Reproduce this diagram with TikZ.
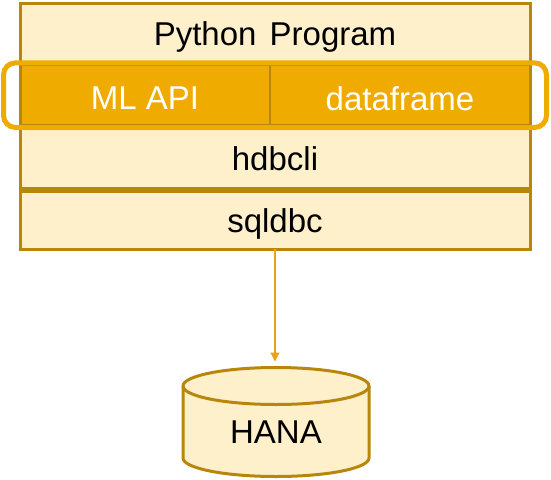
\documentclass[tikz,border=0pt]{standalone}
\usepackage{fontspec}
\setmainfont{Liberation Sans}
\usetikzlibrary{arrows.meta}
\definecolor{edge}{RGB}{184,134,11}
\definecolor{cream}{RGB}{255,240,204}
\definecolor{gold}{RGB}{240,171,0}
\definecolor{arrowc}{RGB}{232,163,23}
\tikzset{
  layer/.style={draw=edge, fill=cream, line width=3pt, inner sep=0pt, outer sep=0pt},
  goldrow/.style={draw=edge, fill=gold, line width=1.5pt, inner sep=0pt, outer sep=0pt},
  lbl/.style={anchor=base, inner sep=0pt, font=\fontsize{33}{36}\selectfont},
  wlbl/.style={lbl, text=white},
  hilite/.style={draw=gold, line width=5pt, rounded corners=12pt},
  link/.style={draw=arrowc, line width=1.2pt, -{Triangle[width=9pt,length=9pt]}}
}
\begin{document}
\begin{tikzpicture}[x=1pt,y=-1pt]
\useasboundingbox (0,0) rectangle (551,479);
% layers
\node[layer, minimum width=510pt, minimum height=61pt] (py) at (275,33.5) {};
\node[goldrow, minimum width=250pt, minimum height=59pt] (ml) at (145,95) {};
\node[goldrow, minimum width=260pt, minimum height=59pt] (df) at (400,95) {};
\node[layer, minimum width=510pt, minimum height=63pt] (hdb) at (275,156.5) {};
\node[layer, minimum width=510pt, minimum height=58pt] (sql) at (275,220) {};
\draw[edge, line width=3pt] (20,3) rectangle (530,249);
% highlight
\draw[hilite] (3.5,62.8) rectangle (546.5,127.5);
% texts
\node[lbl] (tpy) at (275,45) {Python\hspace{4pt} Program};
\node[wlbl] (tml) at (145,109) {ML API};
\node[wlbl] (tdf) at (400,110) {dataframe};
\node[lbl] (thdb) at (275,170) {hdbcli};
\node[lbl] (tsql) at (275,232.5) {sqldbc};
% database
\draw[edge, fill=cream, line width=3pt]
  (183,386) -- (183,458) arc[start angle=180, end angle=0, x radius=93, y radius=18.5]
  -- (369,386) arc[start angle=0, end angle=-180, x radius=93, y radius=18.5] -- cycle;
\draw[edge, line width=3pt] (183,386) arc[start angle=180, end angle=0, x radius=93, y radius=18.5];
\node[lbl] (hana) at (276,443) {HANA};
\coordinate (hanatop) at (275,361.5);
\draw[link] (sql.south -| hanatop) -- (hanatop);
\end{tikzpicture}
\end{document}
